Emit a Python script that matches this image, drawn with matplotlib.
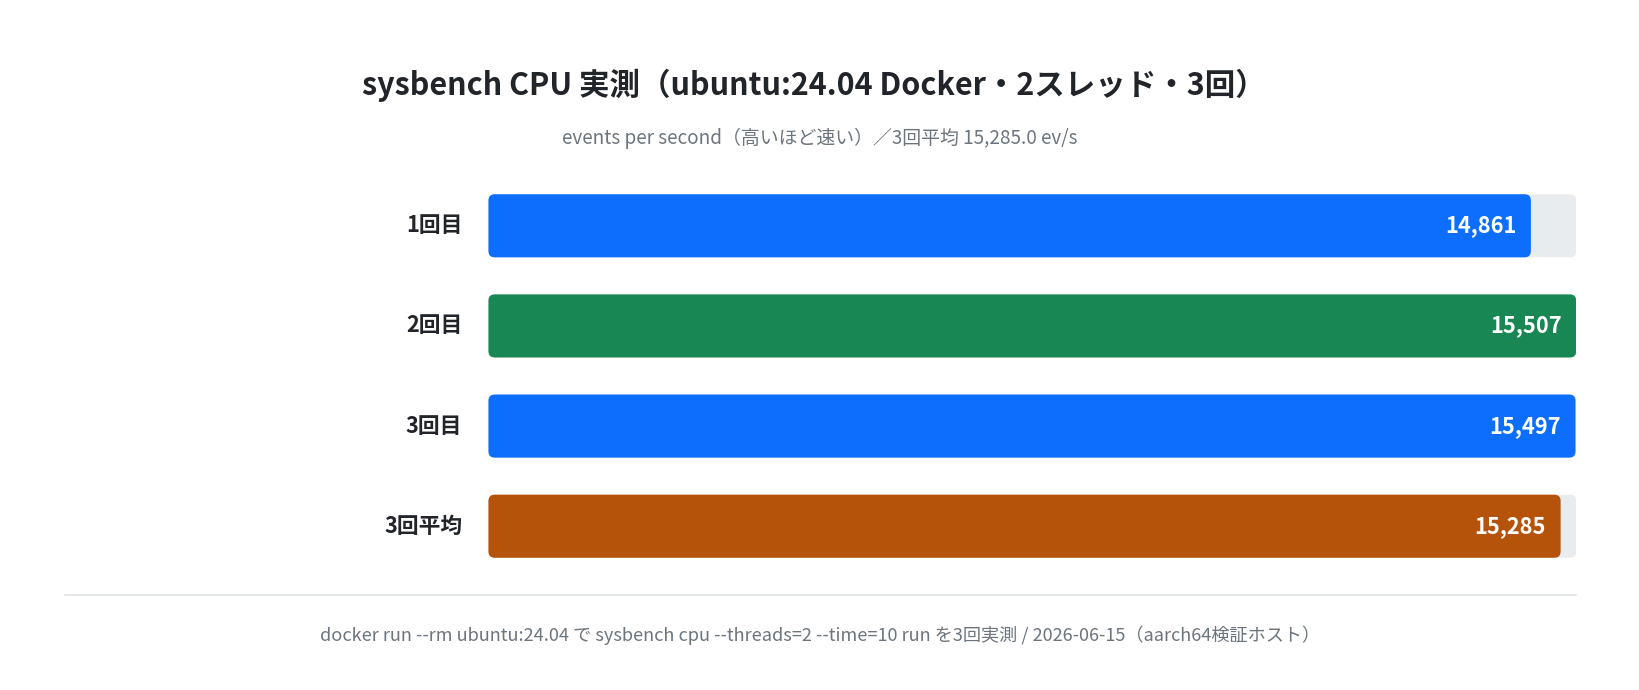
import matplotlib
matplotlib.use("Agg")
import matplotlib.pyplot as plt
from matplotlib.patches import FancyBboxPatch

plt.rcParams['font.family'] = ['Noto Sans CJK JP', 'DejaVu Sans']

labels = ["1回目", "2回目", "3回目", "3回平均"]
values = [14861, 15507, 15497, 15285]
colors = ["#0d6efd", "#198754", "#0d6efd", "#b45309"]
xmax = 15507

k = 1640/1568
W, H = 1640, 690
fig = plt.figure(figsize=(W/100, H/100), dpi=100)
ax = fig.add_axes([467*k/W, 1-551*k/H, 1040*k/W, 383*k/H])
ax.set_xlim(0, xmax)
ax.set_ylim(3.5, -0.5)
ax.axis('off')

bh = 0.63
r = 6 * xmax / 1040
asp = (6/95.7) / r
for i, (v, c) in enumerate(zip(values, colors)):
    ax.add_patch(FancyBboxPatch((0, i-bh/2), xmax, bh, boxstyle=f"round,pad=0,rounding_size={r}",
                                mutation_aspect=asp, fc="#e9ecef", ec="none"))
    ax.add_patch(FancyBboxPatch((0, i-bh/2), v, bh, boxstyle=f"round,pad=0,rounding_size={r}",
                                mutation_aspect=asp, fc=c, ec="none"))
    ax.text(v - 14*xmax/1040, i, f"{v:,}", ha='right', va='center', color='white',
            fontsize=15*k, fontweight='bold')
    ax.text(-25*xmax/1040, i, labels[i], ha='right', va='center', color='#212529',
            fontsize=15*k, fontweight='bold')

fig.text(778*k/W, 1-82*k/H, "sysbench CPU 実測（ubuntu:24.04 Docker・2スレッド・3回）",
         ha='center', va='center', fontsize=21*k, fontweight='bold', color='#212529')
fig.text(784*k/W, 1-132*k/H, "events per second（高いほど速い）／3回平均 15,285.0 ev/s",
         ha='center', va='center', fontsize=13*k, color='#6c757d')
fig.add_artist(plt.Line2D([62*k/W, 1507*k/W], [1-569*k/H, 1-569*k/H], color='#dee2e6', lw=1.2))
fig.text(784*k/W, 1-607*k/H, "docker run --rm ubuntu:24.04 で sysbench cpu --threads=2 --time=10 run を3回実測 / 2026-06-15（aarch64検証ホスト）",
         ha='center', va='center', fontsize=12.5*k, color='#6c757d')

fig.savefig("out.png", dpi=100, facecolor='white')
